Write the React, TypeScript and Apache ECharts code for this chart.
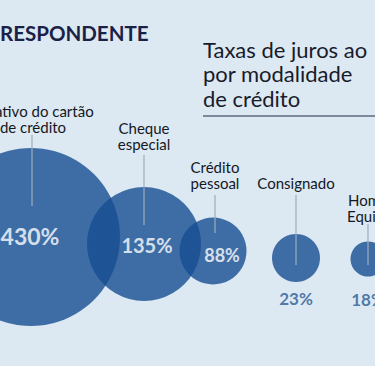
import { useEffect, useRef } from "react";
import * as echarts from "echarts";

// ---- data ----
const categories = [
  "Rotativo do cartão\nde crédito",
  "Cheque\nespecial",
  "Crédito\npessoal",
  "Consignado",
  "Home\nEquity",
];
const rates = [430, 135, 88, 23, 18];
const titleLines = ["Taxas de juros ao", "por modalidade", "de crédito"];
const headerText = "RESPONDENTE";

// ---- layout (pixel space of the 375x366 canvas) ----
const bubbleX = [31, 144, 213, 296, 368];
const bubbleY = [237, 244, 251, 258, 259];
const bubbleD = [178, 114, 67, 48, 35];
const labelCenterY = [119, 136, 175, 183, 208];
const leaderTop = [135, 155, 195, 195, 224];
const leaderBottom = [206, 225, 233, 265, 265];
const valueInside = [true, true, true, false, false];
const valueOffset = [[-1, -1], [3, 1], [9, 4], [0, 0], [0, 0]];
const valueSize = [23, 20, 18, 17, 17];
const valueDistance = [0, 0, 0, 8, 14];

const FONT = 'Lato, "Noto Sans", sans-serif';
const NAVY = "#1a2147";
const BLUE = "rgb(22,78,146)";

export default function App() {
  const ref = useRef<HTMLDivElement>(null);
  useEffect(() => {
    document.body.style.margin = "0";
    const chart = echarts.init(ref.current!, null, { renderer: "svg" });
    const data = rates.map((v, i) => ({
      value: [bubbleX[i], bubbleY[i], v],
      symbolSize: bubbleD[i],
      label: {
        show: true,
        position: valueInside[i] ? "inside" : "bottom",
        distance: valueDistance[i],
        offset: valueOffset[i],
        formatter: () => `${v}%`,
        color: valueInside[i] ? "#ffffff" : "#2b5a95",
        fontSize: valueSize[i],
        fontWeight: "bold",
        fontFamily: FONT,
      },
    }));
    const graphics: any[] = [];
    graphics.push({
      type: "text",
      z: 100,
      style: {
        text: headerText,
        x: 0,
        y: 33,
        textAlign: "left",
        textVerticalAlign: "middle",
        font: `bold 20.5px ${FONT}`,
        fill: NAVY,
      },
    });
    titleLines.forEach((t, i) => {
      graphics.push({
        type: "text",
        z: 100,
        style: {
          text: t,
          x: 203,
          y: 49 + i * 24.5,
          textAlign: "left",
          textVerticalAlign: "middle",
          font: `22px ${FONT}`,
          fill: "#181b2a",
        },
      });
    });
    graphics.push({
      type: "line",
      z: 100,
      shape: { x1: 203, y1: 116, x2: 375, y2: 116 },
      style: { stroke: "#7d8a9b", lineWidth: 2 },
    });
    categories.forEach((c, i) => {
      const dx = i === 0 ? 2 : i === 2 ? 2 : 0;
      graphics.push({
        type: "text",
        z: 100,
        style: {
          text: c,
          x: bubbleX[i] + dx,
          y: labelCenterY[i],
          textAlign: "center",
          textVerticalAlign: "middle",
          font: `15px ${FONT}`,
          lineHeight: 16,
          fill: "#141824",
        },
      });
      graphics.push({
        type: "line",
        z: 100,
        shape: {
          x1: bubbleX[i] + (i === 0 ? 1 : dx),
          y1: leaderTop[i],
          x2: bubbleX[i] + (i === 0 ? 1 : dx),
          y2: leaderBottom[i],
        },
        style: { stroke: "#9eabbc", lineWidth: 1.2 },
      });
    });

    chart.setOption({
      animation: false,
      backgroundColor: "#dce8f2",
      grid: { left: 0, right: 0, top: 0, bottom: 0 },
      xAxis: { type: "value", min: 0, max: 375, show: false },
      yAxis: { type: "value", min: 0, max: 366, inverse: true, show: false },
      series: [
        {
          type: "scatter",
          data,
          itemStyle: { color: BLUE, opacity: 0.8 },
          emphasis: { disabled: true },
        },
      ],
      graphic: graphics,
    });
    return () => chart.dispose();
  }, []);
  return <div ref={ref} style={{ width: 375, height: 366 }} />;
}
